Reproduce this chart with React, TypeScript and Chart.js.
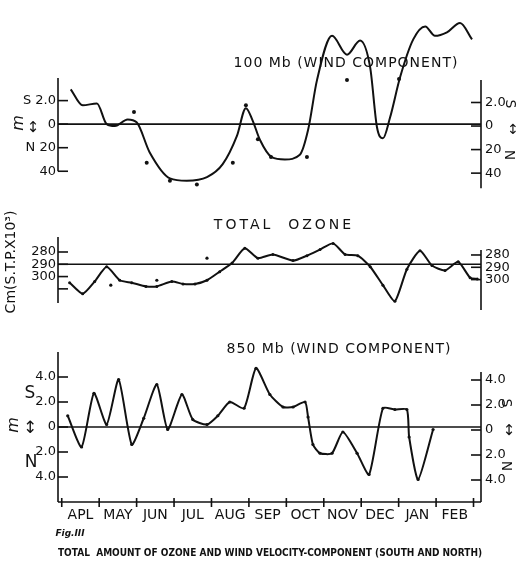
import React, { useEffect, useRef } from "react";
import { Chart, registerables } from "chart.js";
Chart.register(...registerables);

const months = ["APL", "MAY", "JUN", "JUL", "AUG", "SEP", "OCT", "NOV", "DEC", "JAN", "FEB"];

// 100 mb wind component (smoothed curve) and observed dots
const wind100X = [0.24, 0.56, 0.94, 1.2, 1.42, 1.76, 2.0, 2.35, 2.89, 3.34, 3.88, 4.3, 4.68, 4.92, 5.1, 5.29, 5.61, 5.96, 6.36, 6.58, 6.82, 7.22, 7.62, 7.97, 8.24, 8.42, 8.58, 8.77, 9.04, 9.39, 9.71, 9.97, 10.29, 10.64, 10.96];
const wind100Y = [29.6, 16, 17.6, 0, -1.6, 4, 1.6, -24, -46, -48, -45, -34, -10, 13.6, 3, -13, -28, -30, -26, -5, 37.6, 75, 59, 71, 48, -2.4, -12, 5.6, 40, 72, 83, 75, 78, 86, 72];
const wind100DotX = [1.93, 2.27, 2.89, 3.61, 4.57, 4.92, 5.24, 5.59, 6.55, 6.98, 7.62, 8.29, 9.01, 9.97, 10.29, 10.64, 10.96];
const wind100DotY = [10.4, -32.8, -48, -51.2, -32.8, 16, -12.8, -28, -28, 76.8, 37.6, 66.4, 38.4, 75.2, 77.6, 85.6, 72];

// total ozone
const ozoneX = [0.21, 0.56, 0.88, 1.2, 1.55, 1.87, 2.25, 2.54, 2.94, 3.24, 3.56, 3.88, 4.22, 4.55, 4.89, 5.24, 5.64, 6.18, 6.55, 6.9, 7.25, 7.57, 7.91, 8.24, 8.58, 8.9, 9.22, 9.57, 9.89, 10.24, 10.59, 10.91, 11.1];
const ozoneY = [305, 314, 304, 292, 303, 305, 308, 308, 304, 306, 306, 303, 296, 289, 277, 285, 282, 287, 283, 278, 273, 282, 283, 292, 307, 320, 294, 279, 291, 295, 288, 301, 302];
const ozoneDotX = [1.31, 2.54, 3.88];
const ozoneDotY = [307, 303, 285];

// 850 mb wind component
const wind850X = [0.16, 0.53, 0.86, 1.2, 1.52, 1.87, 2.19, 2.54, 2.83, 3.21, 3.5, 3.88, 4.17, 4.49, 4.87, 5.19, 5.56, 5.91, 6.18, 6.5, 6.58, 6.71, 6.9, 7.22, 7.51, 7.89, 8.21, 8.58, 8.9, 9.22, 9.28, 9.52, 9.92];
const wind850Y = [0.9, -1.6, 2.7, 0.2, 3.8, -1.4, 0.7, 3.4, -0.2, 2.6, 0.6, 0.2, 0.9, 2.0, 1.5, 4.7, 2.6, 1.6, 1.6, 2.0, 0.8, -1.4, -2.1, -2.1, -0.4, -2.1, -3.8, 1.5, 1.4, 1.4, -0.8, -4.2, -0.2];

// tick values and labels
const topLeftTicks = [20, 0, -20, -40];
const topLeftLabels = ["S 2.0", "0", "N 20", "40"];
const topRightTicks = [20, 0, -20, -40];
const topRightLabels = ["2.0", "0", "20", "40"];
const ozoneLeftTicks = [280, 290, 300, 310];
const ozoneLeftLabels = ["280", "290", "300", ""];
const ozoneRightTicks = [280, 290, 300];
const ozoneRightLabels = ["280", "290", "300"];
const lowLeftTicks = [4, 2, 0, -2, -4];
const lowLeftLabels = ["4.0", "2.0", "0", "2.0", "4.0"];
const lowRightTicks = [4, 2, 0, -2, -4];
const lowRightLabels = ["4.0", "2.0", "0", "2.0", "4.0"];
const monthTicks = [0, 0.5, 1, 1.5, 2, 2.5, 3, 3.5, 4, 4.5, 5, 5.5, 6, 6.5, 7, 7.5, 8, 8.5, 9, 9.5, 10, 10.5, 11];

const FONT = "'DejaVu Sans', 'Liberation Sans', sans-serif";
const INK = "#111";
const X_MIN = -0.1;
const X_MAX = 11.2;

const pts = (xs: number[], ys: number[]) => xs.map((x, i) => ({ x, y: ys[i] }));

type Axis = { min: number; max: number; ticks: number[]; labels: string[]; line: [number, number] };
type Cfg = {
  height: number;
  padTop: number;
  padBottom: number;
  showX: boolean;
  reverse: boolean;
  left: Axis;
  right: Axis;
  datasets: any[];
};

function axesPlugin(cfg: Cfg) {
  return {
    id: "handAxes",
    afterDraw(chart: any) {
      const ctx = chart.ctx;
      const ca = chart.chartArea;
      const L = chart.scales.yL;
      const R = chart.scales.yR;
      const X = chart.scales.x;
      ctx.save();
      ctx.strokeStyle = INK;
      ctx.lineWidth = 1.6;
      const seg = (x1: number, y1: number, x2: number, y2: number) => {
        ctx.beginPath();
        ctx.moveTo(x1, y1);
        ctx.lineTo(x2, y2);
        ctx.stroke();
      };
      seg(ca.left, L.getPixelForValue(cfg.left.line[0]), ca.left, L.getPixelForValue(cfg.left.line[1]));
      cfg.left.ticks.forEach((v) => {
        const y = L.getPixelForValue(v);
        seg(ca.left, y, ca.left + 10, y);
      });
      seg(ca.right, R.getPixelForValue(cfg.right.line[0]), ca.right, R.getPixelForValue(cfg.right.line[1]));
      cfg.right.ticks.forEach((v) => {
        const y = R.getPixelForValue(v);
        seg(ca.right - 10, y, ca.right, y);
      });
      if (cfg.showX) {
        seg(ca.left, ca.bottom, ca.right, ca.bottom);
        for (let m = 0; m <= 11; m++) {
          const x = X.getPixelForValue(m);
          seg(x, ca.bottom - 4, x, ca.bottom + 5);
        }
      }
      ctx.restore();
    },
  };
}

function buildChart(canvas: HTMLCanvasElement, cfg: Cfg) {
  const yAxis = (side: "left" | "right", a: Axis) => ({
    type: "linear",
    position: side,
    min: a.min,
    max: a.max,
    reverse: cfg.reverse,
    grid: { display: false, drawTicks: false, tickLength: 0 },
    border: { display: false },
    afterFit: (s: any) => {
      s.width = side === "left" ? 58 : 41;
    },
    afterBuildTicks: (s: any) => {
      s.ticks = a.ticks.map((v) => ({ value: v }));
    },
    ticks: {
      autoSkip: false,
      padding: side === "left" ? 2 : 4,
      color: INK,
      font: { family: FONT, size: 13 },
      callback: (v: number) => {
        const i = a.ticks.indexOf(v);
        return i >= 0 ? a.labels[i] : "";
      },
    },
  });
  const xAxis: any = {
    type: "linear",
    display: cfg.showX,
    min: X_MIN,
    max: X_MAX,
    grid: { display: false, drawTicks: false, tickLength: 0 },
    border: { display: false },
    afterBuildTicks: (s: any) => {
      s.ticks = monthTicks.map((v) => ({ value: v }));
    },
    ticks: {
      autoSkip: false,
      maxRotation: 0,
      padding: 5,
      color: INK,
      font: { family: FONT, size: 14 },
      callback: (v: number) => (Number.isInteger(v) ? "" : months[Math.floor(v)]),
    },
  };
  if (cfg.showX) {
    xAxis.afterFit = (s: any) => {
      s.height = 65;
    };
  }
  return new Chart(canvas, {
    type: "line",
    data: { datasets: cfg.datasets },
    options: {
      animation: false,
      responsive: false,
      maintainAspectRatio: false,
      layout: { padding: { top: cfg.padTop, bottom: cfg.padBottom, left: 0, right: 0 } },
      plugins: { legend: { display: false }, tooltip: { enabled: false }, title: { display: false } },
      scales: {
        x: xAxis,
        yL: yAxis("left", cfg.left),
        yR: yAxis("right", cfg.right),
      } as any,
    },
    plugins: [axesPlugin(cfg)],
  } as any);
}

const lineDs = (data: any[], extra: any = {}) => ({
  data,
  yAxisID: "yL",
  borderColor: INK,
  backgroundColor: INK,
  borderWidth: 2,
  pointRadius: 0,
  fill: false,
  clip: false,
  ...extra,
});

const dotDs = (data: any[], r = 2) => ({
  data,
  yAxisID: "yL",
  showLine: false,
  borderColor: INK,
  backgroundColor: INK,
  pointRadius: r,
  pointBorderWidth: 0,
  clip: false,
});

const topCfg: Cfg = {
  height: 200,
  padTop: 78,
  padBottom: 5,
  showX: false,
  reverse: false,
  left: { min: -54.4, max: 39.2, ticks: topLeftTicks, labels: topLeftLabels, line: [39.2, -40] },
  right: { min: -52.8, max: 40.8, ticks: topRightTicks, labels: topRightLabels, line: [39.2, -52.8] },
  datasets: [
    lineDs([{ x: X_MIN, y: 0 }, { x: X_MAX, y: 0 }], { borderWidth: 1.6 }),
    lineDs(pts(wind100X, wind100Y), { cubicInterpolationMode: "monotone" }),
    dotDs(pts(wind100DotX, wind100DotY), 2),
  ],
};

const midCfg: Cfg = {
  height: 130,
  padTop: 37,
  padBottom: 20,
  showX: false,
  reverse: true,
  left: { min: 267.8, max: 327.2, ticks: ozoneLeftTicks, labels: ozoneLeftLabels, line: [267.8, 321.5] },
  right: { min: 265.4, max: 324.7, ticks: ozoneRightTicks, labels: ozoneRightLabels, line: [275.9, 324.7] },
  datasets: [
    lineDs([{ x: X_MIN, y: 290 }, { x: X_MAX, y: 290 }], { borderWidth: 1.6 }),
    lineDs(pts(ozoneX, ozoneY), { tension: 0.2, pointRadius: 1.5, pointBorderWidth: 0 }),
    dotDs(pts(ozoneDotX, ozoneDotY), 1.6),
  ],
};

const lowCfg: Cfg = {
  height: 237,
  padTop: 22,
  padBottom: 0,
  showX: true,
  reverse: false,
  left: { min: -6, max: 6, ticks: lowLeftTicks, labels: lowLeftLabels, line: [6, -6] },
  right: { min: -5.76, max: 6.24, ticks: lowRightTicks, labels: lowRightLabels, line: [4.64, -5.76] },
  datasets: [
    lineDs([{ x: X_MIN, y: 0 }, { x: X_MAX, y: 0 }], { borderWidth: 1.6 }),
    lineDs(pts(wind850X, wind850Y), { tension: 0.2, pointRadius: 1.6, pointBorderWidth: 0 }),
  ],
};

function Panel({ top, cfg }: { top: number; cfg: Cfg }) {
  const ref = useRef<HTMLCanvasElement | null>(null);
  useEffect(() => {
    if (!ref.current) return;
    const c = buildChart(ref.current, cfg);
    return () => c.destroy();
  }, []);
  return (
    <canvas
      ref={ref}
      width={522}
      height={cfg.height}
      style={{ position: "absolute", left: 0, top, width: 522, height: cfg.height }}
    />
  );
}

function Txt({ x, y, text, size = 14, rot = 0, weight = "normal", ls = 0, italic = false, sx = 1 }: any) {
  return (
    <div
      style={{
        position: "absolute",
        left: x,
        top: y,
        transform: `translate(-50%, -50%) rotate(${rot}deg) scaleX(${sx})`,
        fontFamily: FONT,
        fontSize: size,
        fontWeight: weight,
        fontStyle: italic ? "italic" : "normal",
        letterSpacing: ls,
        whiteSpace: "pre",
        lineHeight: 1,
        color: INK,
      }}
    >
      {text}
    </div>
  );
}

export default function App() {
  return (
    <div style={{ position: "absolute", left: 0, top: 0, width: 522, height: 567, background: "#fff", overflow: "hidden" }}>
      <Panel top={0} cfg={topCfg} />
      <Panel top={200} cfg={midCfg} />
      <Panel top={330} cfg={lowCfg} />

      <Txt x={346} y={62} text="100 Mb (WIND COMPONENT)" size={14} ls={1} />
      <Txt x={284} y={224} text="TOTAL  OZONE" size={14} ls={3} />
      <Txt x={339} y={348} text="850 Mb (WIND COMPONENT)" size={14} ls={1} />

      <Txt x={18} y={123} text="m" size={16} rot={-90} italic />
      <Txt x={33} y={127} text="↕" size={15} />
      <Txt x={511} y={104} text="S" size={14} rot={90} />
      <Txt x={513} y={129} text="↕" size={14} />
      <Txt x={510} y={155} text="N" size={14} rot={90} />

      <Txt x={10} y={262} text="Cm(S.T.P.X10³)" size={14} rot={-90} />

      <Txt x={30} y={392} text="S" size={17} />
      <Txt x={31} y={461} text="N" size={17} />
      <Txt x={13} y={425} text="m" size={16} rot={-90} italic />
      <Txt x={30} y={427} text="↕" size={17} />
      <Txt x={507} y={403} text="S" size={14} rot={90} />
      <Txt x={509} y={430} text="↕" size={15} />
      <Txt x={507} y={466} text="N" size={14} rot={90} />

      <Txt x={70} y={533} text="Fig.III" size={9} weight="bold" italic />
      <Txt x={270} y={553} text="TOTAL  AMOUNT OF OZONE AND WIND VELOCITY-COMPONENT (SOUTH AND NORTH)" size={10} weight="bold" sx={0.9} />
    </div>
  );
}
